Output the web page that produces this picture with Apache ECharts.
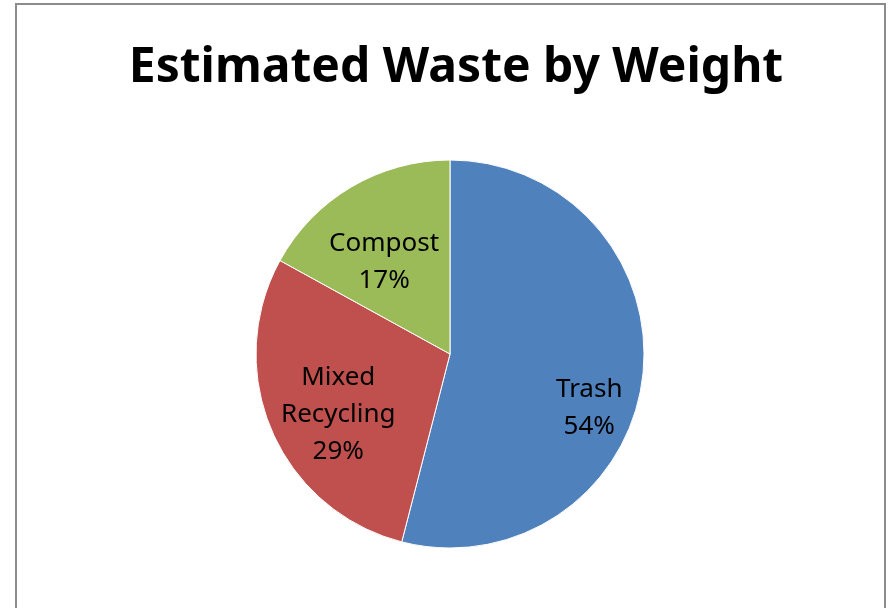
<!DOCTYPE html>
<html>
<head>
<meta charset="utf-8">
<style>
  html, body { margin: 0; padding: 0; background: #ffffff; }
  #chart { width: 888px; height: 608px; }
</style>
<script src="https://cdn.jsdelivr.net/npm/echarts@6/dist/echarts.min.js"></script>
</head>
<body>
<div id="chart"></div>
<script>
// Share of total waste, by weight (percent)
const categories = ['Trash', 'Mixed Recycling', 'Compost'];
const shares = [54, 29, 17];
const sliceColors = ['#4F81BD', '#C0504D', '#9BBB59'];
// Nudges that move each label off the slice's mid-radius point
const labelOffsets = [[40, 42], [-20, 21], [-15, -6]];

const chart = echarts.init(document.getElementById('chart'), null, { renderer: 'canvas' });

const data = categories.map((name, i) => ({
  name: name,
  value: shares[i],
  itemStyle: { color: sliceColors[i] },
  label: { offset: labelOffsets[i] }
}));

chart.setOption({
  backgroundColor: '#ffffff',
  animation: false,
  title: {
    text: 'Estimated Waste by Weight',
    left: 451,
    textAlign: 'center',
    top: 39,
    textStyle: {
      fontFamily: 'Noto Sans',
      fontWeight: 'bold',
      fontSize: 48,
      color: '#000000'
    }
  },
  graphic: [{
    type: 'rect',
    shape: { x: 16, y: 4, width: 869, height: 640 },
    style: { fill: 'none', stroke: '#8c8c8c', lineWidth: 2 },
    silent: true
  }],
  series: [{
    type: 'pie',
    center: [450, 354],
    radius: [0, 194],
    startAngle: 90,
    clockwise: true,
    data: data,
    itemStyle: { borderColor: '#ffffff', borderWidth: 1 },
    label: {
      show: true,
      position: 'inside',
      fontFamily: 'Noto Sans',
      fontSize: 26,
      lineHeight: 37,
      color: '#000000',
      formatter: p => p.name.replace(' ', '\n') + '\n' + Math.round(p.percent) + '%'
    },
    labelLine: { show: false },
    emphasis: { disabled: true }
  }]
});
</script>
</body>
</html>
